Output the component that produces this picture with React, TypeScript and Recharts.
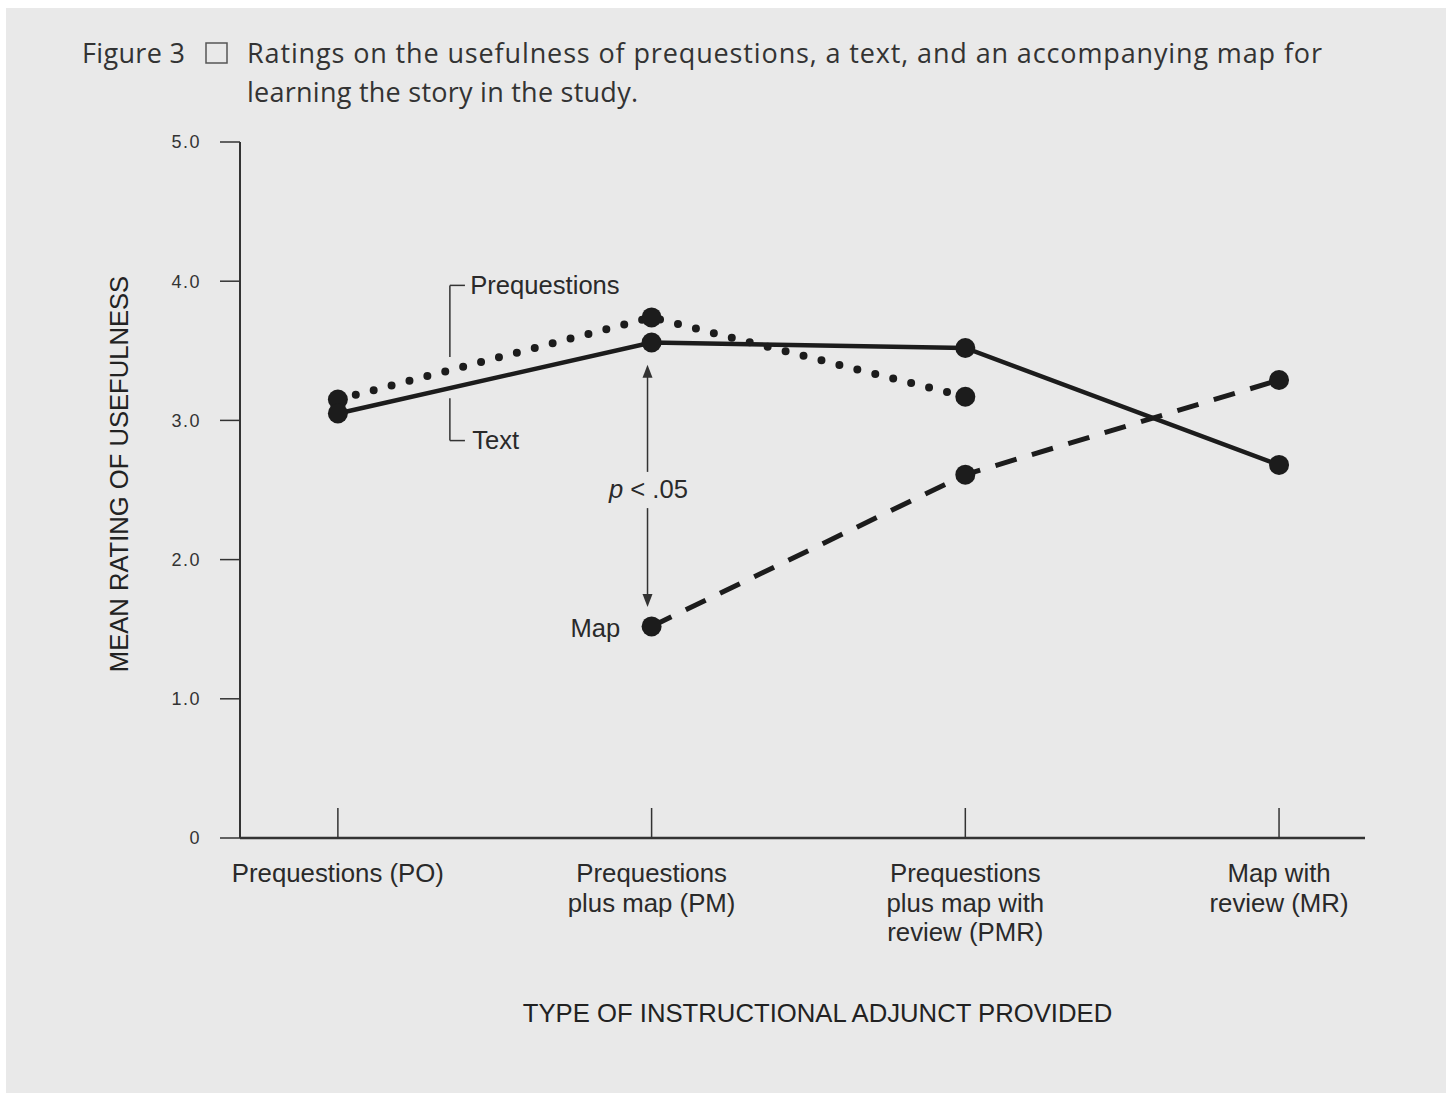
import { Line, LineChart, ReferenceDot, ReferenceLine, XAxis, YAxis } from 'recharts';

const categoryLabels = [
  ['Prequestions (PO)'],
  ['Prequestions', 'plus map (PM)'],
  ['Prequestions', 'plus map with', 'review (PMR)'],
  ['Map with', 'review (MR)'],
];
const prequestionsRatings = [3.15, 3.74, 3.17, null];
const textRatings = [3.05, 3.56, 3.52, 2.68];
const mapRatings = [null, 1.52, 2.61, 3.29];
const yTicks = [0, 1, 2, 3, 4, 5];

const data = categoryLabels.map((_, i) => ({
  idx: i,
  prequestions: prequestionsRatings[i],
  text: textRatings[i],
  map: mapRatings[i],
}));

const INK = '#1c1c1c';
const AXIS = '#333';
const SANS = '"Liberation Sans", Arial, sans-serif';

function CategoryTick({ x, y, payload }: any) {
  const lines = categoryLabels[payload.value] ?? [];
  return (
    <g>
      <line x1={x} x2={x} y1={y - 30} y2={y} stroke={AXIS} strokeWidth={1.5} />
      <text x={x} y={y + 44} textAnchor="middle" fontSize={25.8} fill="#2a2a2a" fontFamily={SANS}>
        {lines.map((l, i) => (
          <tspan key={i} x={x} dy={i === 0 ? 0 : 29.5}>
            {l}
          </tspan>
        ))}
      </text>
    </g>
  );
}

const bigDot = (p: any) =>
  p.cy == null || p.value == null ? (
    <g key={p.key ?? p.index} />
  ) : (
    <circle key={p.key ?? p.index} cx={p.cx} cy={p.cy} r={10} fill={INK} />
  );

const arrow = (p: any) => {
  const { x1, y1, x2, y2 } = p;
  const dir = y2 > y1 ? 1 : -1;
  return (
    <g>
      <line x1={x1} y1={y1} x2={x2} y2={y2 - dir * 10} stroke={AXIS} strokeWidth={1.5} />
      <polygon points={`${x2},${y2} ${x2 - 5},${y2 - dir * 13} ${x2 + 5},${y2 - dir * 13}`} fill={AXIS} />
    </g>
  );
};

const note = (label: any, anchor: string) => (p: any) =>
  (
    <text x={p.cx} y={p.cy} dy={9} textAnchor={anchor} fontSize={25.6} fill="#2a2a2a" fontFamily={SANS}>
      {label}
    </text>
  );

const bracketX = 0.357;

export default function App() {
  return (
    <div style={{ position: 'absolute', left: 0, top: 0, width: 1450, height: 1093, background: '#fff' }}>
      <div style={{ position: 'absolute', left: 6, top: 8, width: 1440, height: 1085, background: '#e9e9e9' }} />
      <svg
        width={1450}
        height={120}
        style={{ position: 'absolute', left: 0, top: 0 }}
        fontFamily='"Open Sans", "DejaVu Sans", sans-serif'
        fill="#333"
        fontSize={27}
      >
        <text x={82} y={63} textLength={103}>Figure 3</text>
        <rect x={206} y={43} width={21} height={20} fill="none" stroke="#555" strokeWidth={1.5} />
        <text x={247} y={63} textLength={1075}>
          Ratings on the usefulness of prequestions, a text, and an accompanying map for
        </text>
        <text x={247} y={102} textLength={391}>learning the story in the study.</text>
      </svg>
      <div style={{ position: 'absolute', left: 0, top: 0 }}>
        <LineChart width={1450} height={1093} data={data} margin={{ top: 142, right: 85, bottom: 195, left: 140 }}>
          <XAxis
            dataKey="idx"
            type="number"
            domain={[-0.312, 3.274]}
            ticks={[0, 1, 2, 3]}
            interval={0}
            height={60}
            tickSize={0}
            tickMargin={0}
            tickLine={false}
            axisLine={{ stroke: AXIS, strokeWidth: 2.5 }}
            tick={<CategoryTick />}
            label={{
              content: (p: any) => (
                <text
                  x={p.viewBox.x + p.viewBox.width / 2 + 15}
                  y={p.viewBox.y + 184}
                  textAnchor="middle"
                  fontSize={25.7}
                  fill="#222"
                  fontFamily={SANS}
                >
                  TYPE OF INSTRUCTIONAL ADJUNCT PROVIDED
                </text>
              ),
            }}
          />
          <YAxis
            type="number"
            domain={[0, 5]}
            ticks={yTicks}
            width={100}
            tickSize={20}
            tickMargin={19}
            tickFormatter={(v: number) => (v === 0 ? '0' : v.toFixed(1))}
            tick={{ fontSize: 18, fill: '#333', fontFamily: SANS, letterSpacing: 1.5 }}
            tickLine={{ stroke: AXIS, strokeWidth: 1.5 }}
            axisLine={{ stroke: AXIS, strokeWidth: 2 }}
            label={{
              content: (p: any) => {
                const cx = p.viewBox.x - 21;
                const cy = p.viewBox.y + p.viewBox.height / 2 - 16;
                return (
                  <text
                    x={cx}
                    y={cy}
                    dy={9}
                    transform={`rotate(-90 ${cx} ${cy})`}
                    textAnchor="middle"
                    fontSize={25.6}
                    fill="#222"
                    fontFamily={SANS}
                  >
                    MEAN RATING OF USEFULNESS
                  </text>
                );
              },
            }}
          />

          {/* Prequestions / Text bracket */}
          <ReferenceLine segment={[{ x: bracketX, y: 3.455 }, { x: bracketX, y: 3.97 }]} stroke={AXIS} strokeWidth={1.5} />
          <ReferenceLine segment={[{ x: bracketX, y: 3.97 }, { x: 0.405, y: 3.97 }]} stroke={AXIS} strokeWidth={1.5} />
          <ReferenceLine segment={[{ x: bracketX, y: 3.16 }, { x: bracketX, y: 2.855 }]} stroke={AXIS} strokeWidth={1.5} />
          <ReferenceLine segment={[{ x: bracketX, y: 2.855 }, { x: 0.405, y: 2.855 }]} stroke={AXIS} strokeWidth={1.5} />
          <ReferenceDot x={0.422} y={3.97} r={0} shape={note('Prequestions', 'start')} />
          <ReferenceDot x={0.428} y={2.86} r={0} shape={note('Text', 'start')} />

          {/* significance arrows */}
          <ReferenceLine segment={[{ x: 0.987, y: 2.63 }, { x: 0.987, y: 3.4 }]} shape={arrow} />
          <ReferenceLine segment={[{ x: 0.987, y: 2.37 }, { x: 0.987, y: 1.66 }]} shape={arrow} />
          <ReferenceDot
            x={0.99}
            y={2.51}
            r={0}
            shape={note(
              <>
                <tspan fontStyle="italic">p</tspan> &lt; .05
              </>,
              'middle',
            )}
          />
          <ReferenceDot x={0.9} y={1.51} r={0} shape={note('Map', 'end')} />

          <Line
            dataKey="map"
            stroke={INK}
            strokeWidth={5}
            strokeDasharray="22 16"
            dot={bigDot}
            activeDot={false}
            isAnimationActive={false}
          />
          <Line
            dataKey="prequestions"
            stroke={INK}
            strokeWidth={8}
            strokeDasharray="0 18.5"
            strokeLinecap="round"
            dot={bigDot}
            activeDot={false}
            isAnimationActive={false}
          />
          <Line
            dataKey="text"
            stroke={INK}
            strokeWidth={4.5}
            dot={bigDot}
            activeDot={false}
            isAnimationActive={false}
          />
        </LineChart>
      </div>
    </div>
  );
}
